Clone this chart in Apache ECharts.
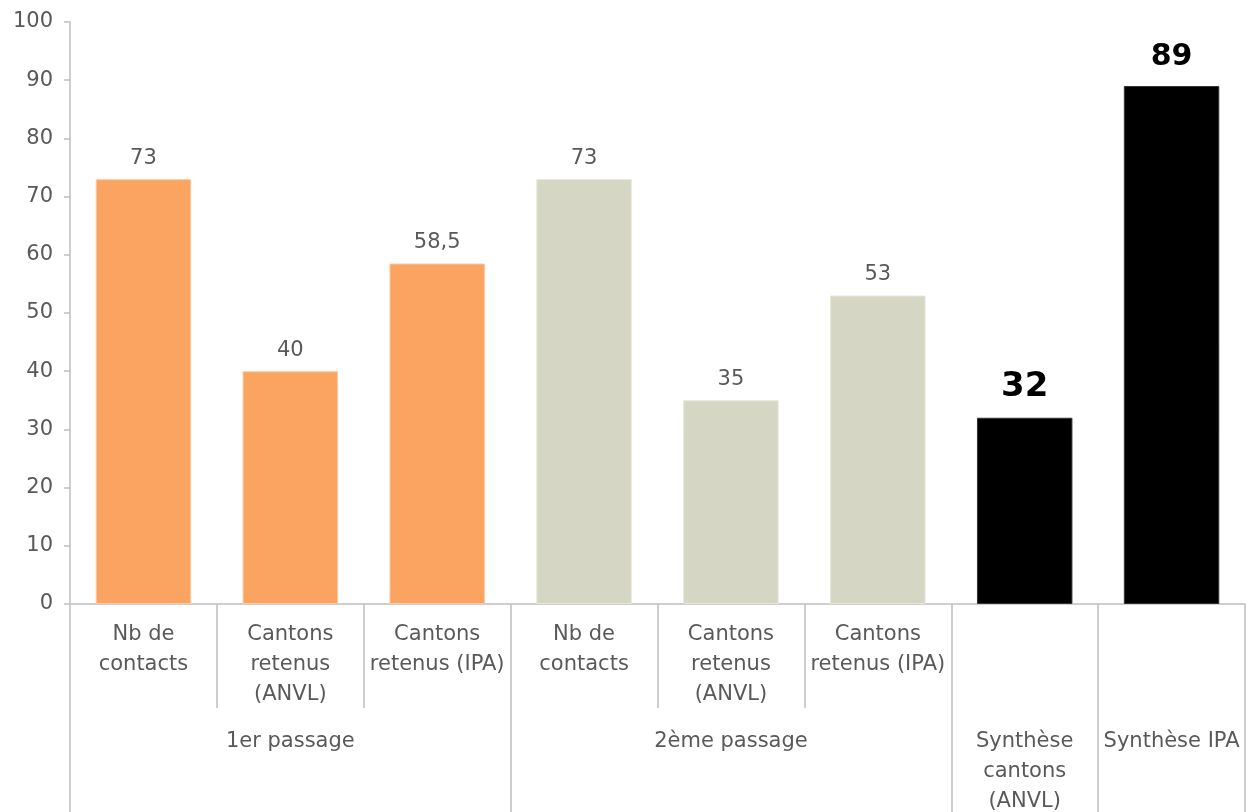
<!DOCTYPE html>
<html>
<head>
<meta charset="utf-8">
<script src="https://cdn.jsdelivr.net/npm/echarts@6/dist/echarts.min.js"></script>
<style>
html,body{margin:0;padding:0;background:#fff;}
#chart{width:1249px;height:812px;}
</style>
</head>
<body>
<div id="chart"></div>
<script>
// ---- data ----
const categories = ['Nb de\ncontacts', 'Cantons\nretenus\n(ANVL)', 'Cantons\nretenus (IPA)', 'Nb de\ncontacts', 'Cantons\nretenus\n(ANVL)', 'Cantons\nretenus (IPA)', '', ''];
const values = [73, 40, 58.5, 73, 35, 53, 32, 89];
const barGroup = ['p1', 'p1', 'p1', 'p2', 'p2', 'p2', 'syn', 'syn'];
const groupLabels = ['1er passage', '2ème passage', 'Synthèse\ncantons\n(ANVL)', 'Synthèse IPA'];
const groupCenters = [1.5, 4.5, 6.5, 7.5];
const groupBounds = [0, 3, 6, 7, 8];
const yTicks = [0, 10, 20, 30, 40, 50, 60, 70, 80, 90, 100];

// ---- styles ----
const colorMap = { p1: '#FBA462', p2: '#D5D6C4', syn: '#000000' };
const borderMap = { p1: '#FCC9A0', p2: '#E6E7DA', syn: '#333333' };
const axisColor = '#BFBFBF';
const textColor = '#595959';
const font = 'DejaVu Sans';

const chart = echarts.init(document.getElementById('chart'));

const seriesData = values.map((v, i) => {
  const g = barGroup[i];
  const bold = g === 'syn';
  return {
    value: v,
    itemStyle: { color: colorMap[g], borderColor: borderMap[g], borderWidth: 1 },
    label: bold ? {
      fontWeight: 'bold',
      color: '#000',
      fontSize: v < 50 ? 34 : 30,
      distance: 14
    } : {}
  };
});

chart.setOption({
  animation: false,
  backgroundColor: '#fff',
  grid: { left: 70, right: 4, top: 22, bottom: 208, containLabel: false, outerBoundsMode: 'none' },
  xAxis: [
    {
      type: 'category',
      data: categories,
      position: 'bottom',
      axisLine: { show: true, lineStyle: { color: axisColor, width: 1.5 } },
      axisTick: { show: true, interval: 0, length: 104, lineStyle: { color: axisColor, width: 1.5 } },
      axisLabel: {
        interval: 0,
        margin: 16,
        fontFamily: font,
        fontSize: 21,
        lineHeight: 30,
        color: textColor,
        verticalAlign: 'top'
      }
    },
    {
      type: 'value',
      min: 0,
      max: 8,
      position: 'bottom',
      axisLine: { show: false },
      splitLine: { show: false },
      axisTick: { show: true, customValues: groupBounds, length: 208, lineStyle: { color: axisColor, width: 1.5 } },
      axisLabel: {
        customValues: groupCenters,
        formatter: function (val) {
          const idx = groupCenters.indexOf(val);
          return idx >= 0 ? groupLabels[idx] : '';
        },
        margin: 123,
        fontFamily: font,
        fontSize: 21,
        lineHeight: 30,
        color: textColor,
        verticalAlign: 'top'
      }
    }
  ],
  yAxis: {
    type: 'value',
    min: 0,
    max: 100,
    interval: 10,
    axisLine: { show: true, lineStyle: { color: axisColor, width: 1.5 } },
    axisTick: { show: true, length: 6, lineStyle: { color: axisColor, width: 1.5 } },
    splitLine: { show: false },
    axisLabel: {
      margin: 17,
      fontFamily: font,
      fontSize: 21,
      color: textColor,
      formatter: function (v) { return yTicks.indexOf(v) >= 0 ? String(v) : ''; }
    }
  },
  series: [{
    type: 'bar',
    xAxisIndex: 0,
    yAxisIndex: 0,
    barWidth: '65%',
    data: seriesData,
    label: {
      show: true,
      position: 'top',
      distance: 10,
      fontFamily: font,
      fontSize: 21,
      color: textColor,
      formatter: function (p) { return String(p.value).replace('.', ','); }
    }
  }]
});
</script>
</body>
</html>
